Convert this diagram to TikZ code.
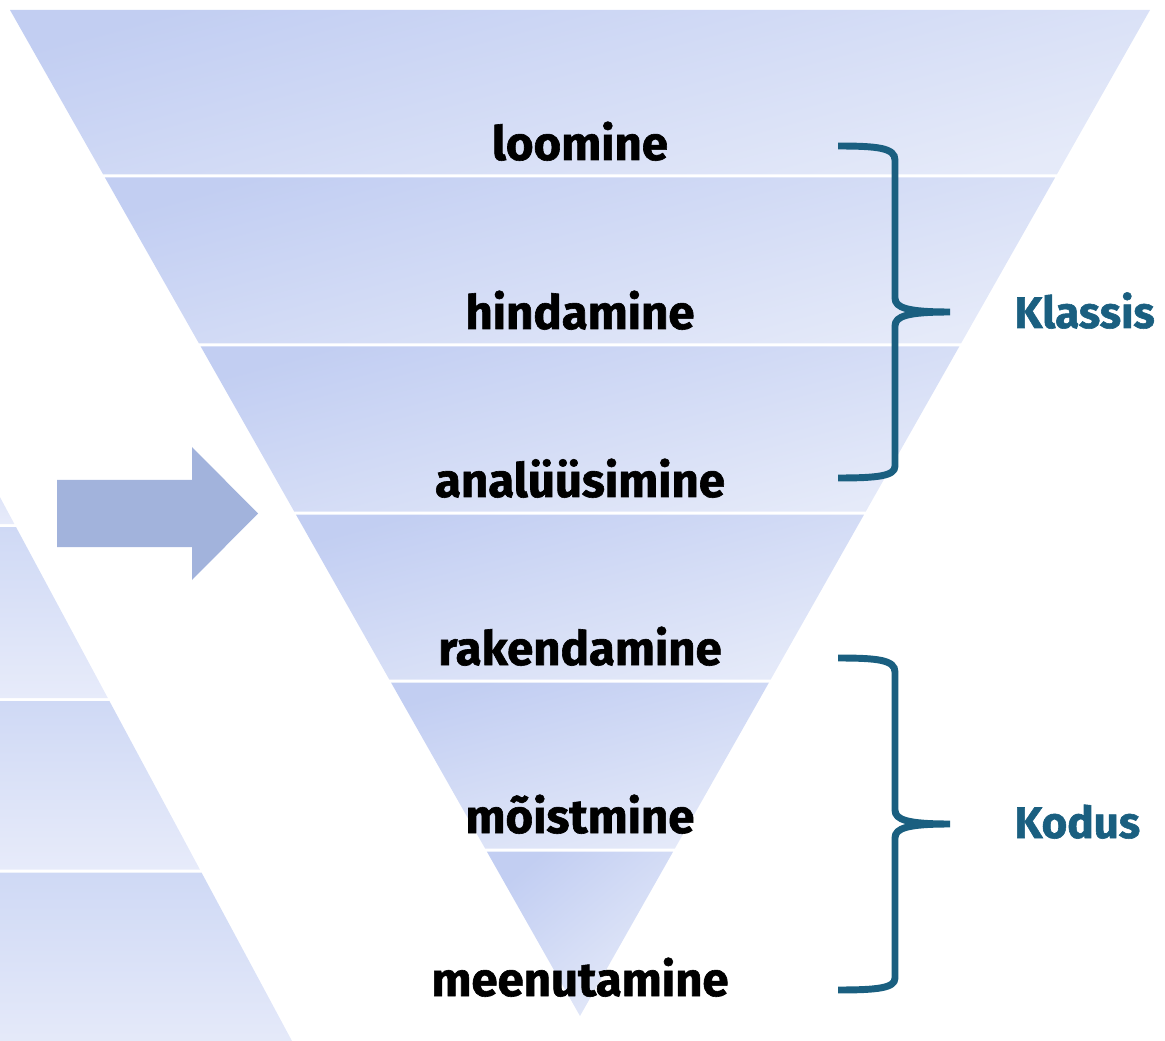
\documentclass[tikz,border=0pt]{standalone}
\usepackage{fontspec}
\setmainfont{Fira Sans}[BoldFeatures={FakeBold=1.3}]
\definecolor{bracecol}{RGB}{26,95,128}
\definecolor{bandtop}{RGB}{194,206,242}
\definecolor{bandbot}{RGB}{229,234,249}
\definecolor{sidetop}{RGB}{207,217,245}
\definecolor{sidebot}{RGB}{231,235,250}
\definecolor{arrowcol}{RGB}{162,179,220}
\tikzset{every picture/.style={line width=0.75pt}}

\begin{document}
\begin{tikzpicture}[x=0.75pt,y=0.75pt,yscale=-1,xscale=1,
  band/.style={top color=bandtop, bottom color=bandbot, shading angle=15},
  sideband/.style={top color=sidetop, bottom color=sidebot},
  level/.style={anchor=base, inner sep=0.75pt, font=\fontsize{35.5}{40}\selectfont\bfseries},
  group/.style={anchor=base west, inner sep=0.75pt, text=bracecol, font=\fontsize{33}{38}\selectfont\bfseries},
  curly/.style={draw=bracecol, line width=5.2pt}]
\useasboundingbox (0,0) rectangle (1165,1041);
\clip (0,0) rectangle (1165,1041);

%Shape: Trapezoid [left pyramid, cut off]
\shade[sideband] (-60,440) -- (-30.7,440) -- (14.4,524) -- (-60,524) -- cycle ;
%Shape: Trapezoid
\shade[sideband] (-60,527) -- (16,527) -- (107.8,698) -- (-60,698) -- cycle ;
%Shape: Trapezoid
\shade[sideband] (-60,701) -- (109.4,701) -- (199.9,869.5) -- (-60,869.5) -- cycle ;
%Shape: Trapezoid
\shade[sideband] (-60,872.5) -- (201.5,872.5) -- (302.2,1060) -- (-60,1060) -- cycle ;

%Shape: Right Arrow
\fill[arrowcol] (57,480) -- (192,480) -- (192,447) -- (258,513.5) -- (192,580) -- (192,547) -- (57,547) -- cycle ;

%Shape: Trapezoid [top band]
\shade[band] (10,10) -- (1150,10) -- (1056.8,174.5) -- (103.2,174.5) -- cycle ;
%Shape: Trapezoid
\shade[band] (104.9,177.5) -- (1055.1,177.5) -- (961,343.5) -- (199,343.5) -- cycle ;
%Shape: Trapezoid
\shade[band] (200.7,346.5) -- (959.3,346.5) -- (865.8,511.5) -- (294.2,511.5) -- cycle ;
%Shape: Trapezoid
\shade[band] (295.9,514.5) -- (864.1,514.5) -- (770.7,679.5) -- (389.3,679.5) -- cycle ;
%Shape: Trapezoid
\shade[band] (391,682.5) -- (769,682.5) -- (674.9,848.5) -- (485.1,848.5) -- cycle ;
%Shape: Triangle [bottom band]
\shade[band, shading angle=40] (486.8,851.5) -- (673.2,851.5) -- (580,1016) -- cycle ;

%Shape: Brace [Klassis]
\draw[curly] (838,146) .. controls (878,146) and (895,148) .. (895,160) -- (895,298) .. controls (895,308) and (908,312) .. (950,312) .. controls (908,312) and (895,316) .. (895,326) -- (895,466) .. controls (895,476) and (878,478) .. (838,478) ;
%Shape: Brace [Kodus]
\draw[curly] (838,658) .. controls (878,658) and (895,660) .. (895,672) -- (895,810) .. controls (895,820) and (908,824) .. (950,824) .. controls (908,824) and (895,828) .. (895,838) -- (895,978) .. controls (895,988) and (878,990) .. (838,990) ;

% Text Node
\node[level] (loomine) at (580,160) {loomine};
% Text Node
\node[level] (hindamine) at (580,329) {hindamine};
% Text Node
\node[level] (analuusimine) at (580,497) {analüüsimine};
% Text Node
\node[level] (rakendamine) at (580,665) {rakendamine};
% Text Node
\node[level] (moistmine) at (580,833) {mõistmine};
% Text Node
\node[level] (meenutamine) at (580,996) {meenutamine};
% Text Node
\node[group] (klassis) at (1013,328) {Klassis};
% Text Node
\node[group] (kodus) at (1013,838) {Kodus};

\end{tikzpicture}
\end{document}
